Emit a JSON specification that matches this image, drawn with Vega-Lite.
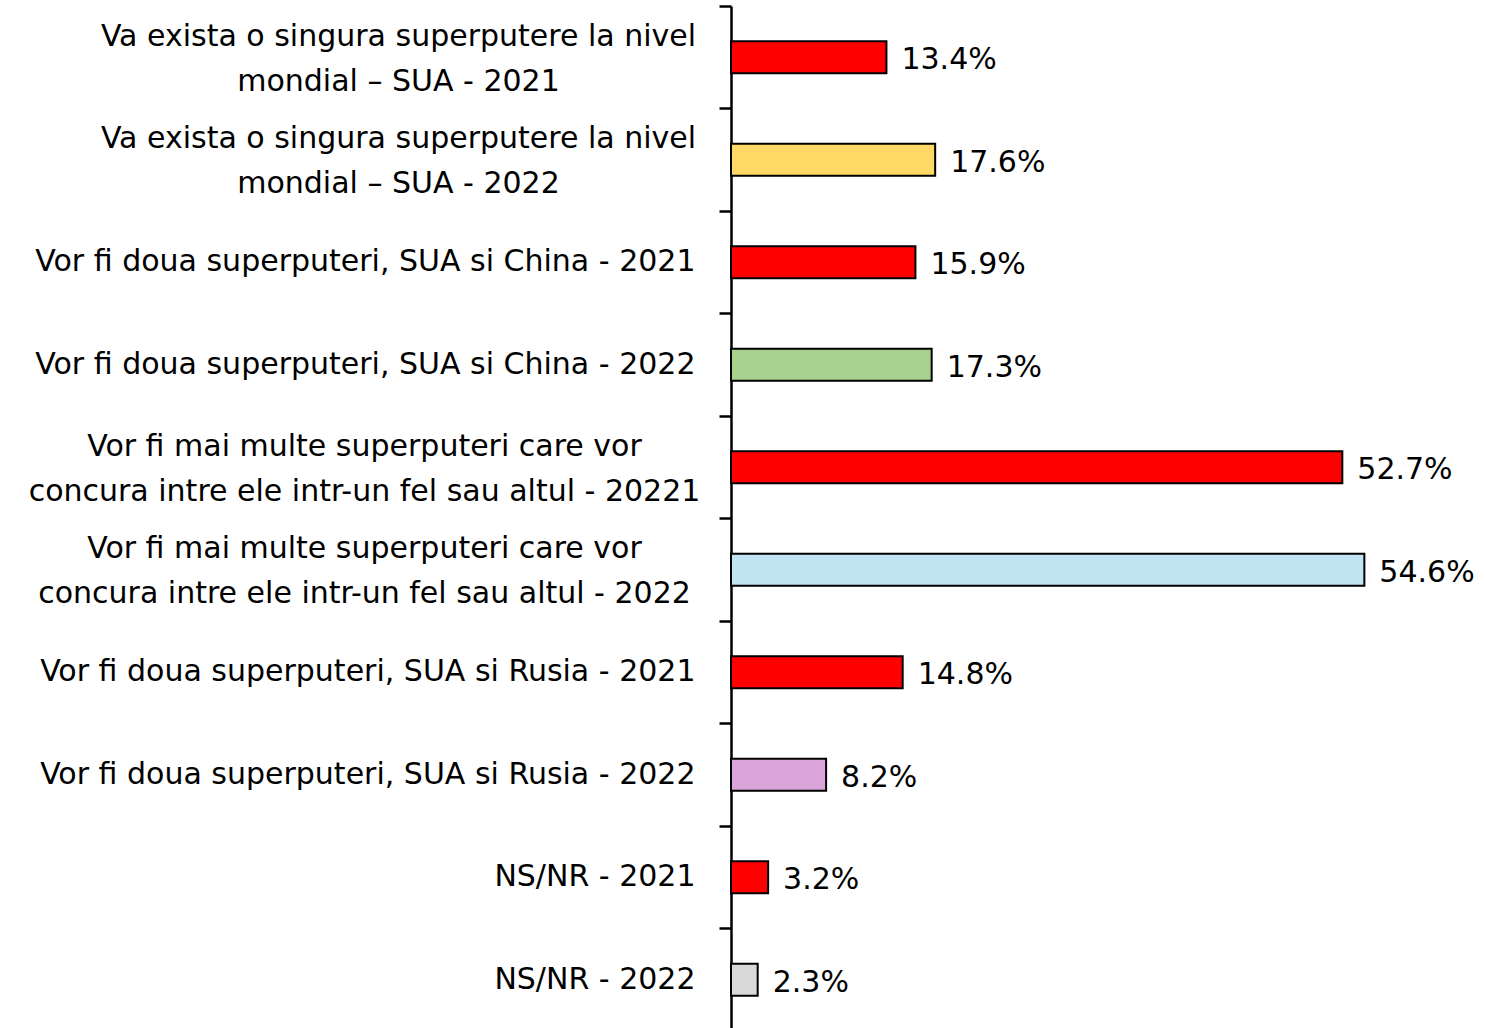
{
  "$schema": "https://vega.github.io/schema/vega-lite/v6.json",
  "width": 754,
  "height": 1025,
  "autosize": {"type": "none"},
  "padding": {"left": 731, "top": 6, "right": 0, "bottom": 0},
  "background": "white",
  "config": {"view": {"stroke": null}, "font": "DejaVu Sans"},
  "data": {
    "values": [
      {"cat": "Va exista o singura superputere la nivel|mondial – SUA - 2021", "v": 13.4, "label": "13.4%"},
      {"cat": "Va exista o singura superputere la nivel|mondial – SUA - 2022", "v": 17.6, "label": "17.6%"},
      {"cat": "Vor fi doua superputeri, SUA si China - 2021", "v": 15.9, "label": "15.9%"},
      {"cat": "Vor fi doua superputeri, SUA si China - 2022", "v": 17.3, "label": "17.3%"},
      {"cat": "Vor fi mai multe superputeri care vor|concura intre ele intr-un fel sau altul  - 20221", "v": 52.7, "label": "52.7%"},
      {"cat": "Vor fi mai multe superputeri care vor|concura intre ele intr-un fel sau altul  - 2022", "v": 54.6, "label": "54.6%"},
      {"cat": "Vor fi doua superputeri, SUA si Rusia - 2021", "v": 14.8, "label": "14.8%"},
      {"cat": "Vor fi doua superputeri, SUA si Rusia - 2022", "v": 8.2, "label": "8.2%"},
      {"cat": "NS/NR - 2021", "v": 3.2, "label": "3.2%"},
      {"cat": "NS/NR - 2022", "v": 2.3, "label": "2.3%"}
    ]
  },
  "encoding": {
    "x": {
      "field": "v",
      "type": "quantitative",
      "scale": {"domain": [0, 65], "nice": false},
      "axis": null
    }
  },
  "layer": [
    {
      "mark": {"type": "bar", "stroke": "black", "strokeWidth": 2, "height": {"band": 0.31}},
      "encoding": {
        "y": {
          "field": "cat",
          "type": "nominal",
          "sort": null,
          "scale": {"paddingInner": 0, "paddingOuter": 0},
          "axis": {
            "orient": "left",
            "title": null,
            "domainColor": "black",
            "domainWidth": 2.5,
            "tickColor": "black",
            "tickWidth": 2.5,
            "tickSize": 12,
            "bandPosition": 0,
            "labelExpr": "isString(datum.value) && indexof(datum.value, '|') >= 0 ? '' : datum.label",
            "labelFontSize": 30,
            "labelColor": "black",
            "labelLimit": 2000,
            "labelAlign": "right",
            "labelPadding": 24
          }
        },
        "color": {
          "field": "cat",
          "type": "nominal",
          "legend": null,
          "scale": {
            "domain": [
              "Va exista o singura superputere la nivel|mondial – SUA - 2021",
              "Va exista o singura superputere la nivel|mondial – SUA - 2022",
              "Vor fi doua superputeri, SUA si China - 2021",
              "Vor fi doua superputeri, SUA si China - 2022",
              "Vor fi mai multe superputeri care vor|concura intre ele intr-un fel sau altul  - 20221",
              "Vor fi mai multe superputeri care vor|concura intre ele intr-un fel sau altul  - 2022",
              "Vor fi doua superputeri, SUA si Rusia - 2021",
              "Vor fi doua superputeri, SUA si Rusia - 2022",
              "NS/NR - 2021",
              "NS/NR - 2022"
            ],
            "range": ["#FF0000", "#FFD966", "#FF0000", "#A9D18E", "#FF0000", "#C0E4F0", "#FF0000", "#DAA3DA", "#FF0000", "#D9D9D9"]
          }
        }
      }
    },
    {
      "transform": [{"filter": "indexof(datum.cat, 'altul') < 0"}],
      "mark": {"type": "text", "align": "left", "baseline": "middle", "dx": 15, "dy": 3, "fontSize": 30, "color": "black"},
      "encoding": {
        "text": {"field": "label"},
        "y": {
          "field": "cat",
          "type": "nominal",
          "sort": null,
          "axis": {
            "orient": "left",
            "title": null,
            "domain": false,
            "ticks": false,
            "tickSize": 0,
            "labelExpr": "isString(datum.value) && indexof(datum.value, 'Va exista') >= 0 ? split(datum.value, '|') : ''",
            "labelFontSize": 30,
            "labelColor": "black",
            "labelLineHeight": 45,
            "labelLimit": 2000,
            "labelAlign": "center",
            "labelOffset": -20.5,
            "labelPadding": 333
          }
        }
      }
    },
    {
      "transform": [{"filter": "indexof(datum.cat, 'altul') >= 0"}],
      "mark": {"type": "text", "align": "left", "baseline": "middle", "dx": 15, "dy": 3, "fontSize": 30, "color": "black"},
      "encoding": {
        "text": {"field": "label"},
        "y": {
          "field": "cat",
          "type": "nominal",
          "sort": null,
          "axis": {
            "orient": "left",
            "title": null,
            "domain": false,
            "ticks": false,
            "tickSize": 0,
            "labelExpr": "isString(datum.value) && indexof(datum.value, 'altul') >= 0 ? split(datum.value, '|') : ''",
            "labelFontSize": 30,
            "labelColor": "black",
            "labelLineHeight": 45,
            "labelLimit": 2000,
            "labelAlign": "center",
            "labelOffset": -20.5,
            "labelPadding": 367
          }
        }
      }
    }
  ],
  "resolve": {"axis": {"y": "independent"}}
}
